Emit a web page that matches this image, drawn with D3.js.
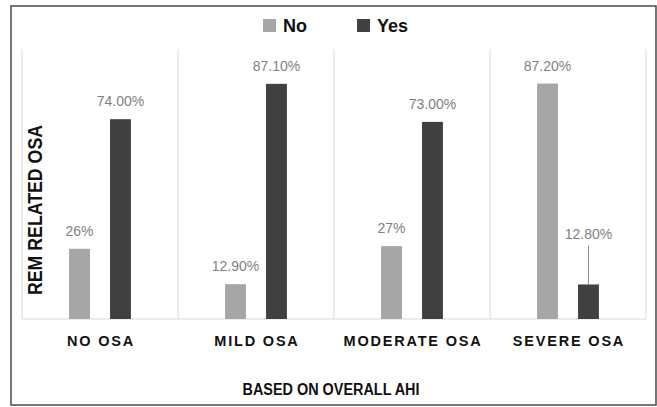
<!DOCTYPE html>
<html>
<head>
<meta charset="utf-8">
<script src="https://cdnjs.cloudflare.com/ajax/libs/d3/7.8.5/d3.min.js"></script>
<style>
    body { margin: 0; background: #fff; }
    svg { display: block; }
</style>
</head>
<body>
<svg id="chart" width="657" height="407"></svg>
<script>
// data
var categories = ["NO OSA", "MILD OSA", "MODERATE OSA", "SEVERE OSA"];
var seriesNames = ["No", "Yes"];
var noValues = [26, 12.9, 27, 87.2];
var yesValues = [74, 87.1, 73, 12.8];
var noLabels = ["26%", "12.90%", "27%", "87.20%"];
var yesLabels = ["74.00%", "87.10%", "73.00%", "12.80%"];

var colors = { "No": "#a6a6a6", "Yes": "#404040" };

var svg = d3.select("#chart");
var width = 657, height = 407;

svg.append("rect")
    .attr("width", width)
    .attr("height", height)
    .attr("fill", "#fff");

// outer frame
svg.append("rect")
    .attr("x", 11)
    .attr("y", 6)
    .attr("width", 645)
    .attr("height", 399)
    .attr("fill", "none")
    .attr("stroke", "#4a4a4a")
    .attr("stroke-width", 1.5);

var plotLeft = 22, plotRight = 646, plotTop = 49, plotBottom = 319;

var x0 = d3.scaleBand()
    .domain(categories)
    .range([plotLeft, plotRight])
    .padding(0);

var x1 = d3.scaleBand()
    .domain(seriesNames)
    .range([0, x0.bandwidth()])
    .paddingInner(0.49)
    .paddingOuter(1.15);

var y = d3.scaleLinear()
    .domain([0, 100])
    .range([plotBottom, plotTop]);

var rows = categories.map(function (c, i) {
    return {
        cat: c,
        bars: [
            { key: "No", value: noValues[i], label: noLabels[i] },
            { key: "Yes", value: yesValues[i], label: yesLabels[i] }
        ]
    };
});

// vertical separators between categories
var sepX = categories.map(function (c) { return x0(c); }).concat([plotRight]);
svg.append("g")
    .selectAll("line")
    .data(sepX)
    .enter()
    .append("line")
    .attr("x1", function (d) { return d; })
    .attr("x2", function (d) { return d; })
    .attr("y1", plotTop)
    .attr("y2", plotBottom)
    .attr("stroke", "#d9d9d9")
    .attr("stroke-width", 1);

// category axis line
svg.append("line")
    .attr("x1", plotLeft)
    .attr("x2", plotRight)
    .attr("y1", plotBottom)
    .attr("y2", plotBottom)
    .attr("stroke", "#d9d9d9")
    .attr("stroke-width", 1);

var groups = svg.append("g")
    .selectAll("g")
    .data(rows)
    .enter()
    .append("g")
    .attr("transform", function (d) { return "translate(" + x0(d.cat) + ",0)"; });

groups.selectAll("rect")
    .data(function (d) { return d.bars; })
    .enter()
    .append("rect")
    .attr("x", function (d) { return x1(d.key); })
    .attr("width", x1.bandwidth())
    .attr("y", function (d) { return y(d.value); })
    .attr("height", function (d) { return y(0) - y(d.value); })
    .attr("fill", function (d) { return colors[d.key]; });

// labels; the small "Yes" bar in the last group has its label lifted with a leader line
var liftedCat = "SEVERE OSA", liftedKey = "Yes", lift = 32;

groups.each(function (row) {
    var g = d3.select(this);
    row.bars.forEach(function (b) {
        var cx = x1(b.key) + x1.bandwidth() / 2;
        var top = y(b.value);
        var raised = (row.cat === liftedCat && b.key === liftedKey);
        var baseY = top - 13 - (raised ? lift : 0);
        g.append("text")
            .attr("x", cx)
            .attr("y", baseY)
            .attr("text-anchor", "middle")
            .attr("font-family", "'Liberation Sans', Arial, sans-serif")
            .attr("font-size", 14)
            .attr("fill", "#7f7f7f")
            .text(b.label);
        if (raised) {
            g.append("line")
                .attr("x1", cx)
                .attr("x2", cx)
                .attr("y1", baseY + 6)
                .attr("y2", top)
                .attr("stroke", "#8c8c8c")
                .attr("stroke-width", 1);
        }
    });
});

// category labels
svg.append("g")
    .selectAll("text")
    .data(categories)
    .enter()
    .append("text")
    .attr("x", function (d) { return x0(d) + x0.bandwidth() / 2 + 1; })
    .attr("y", 346)
    .attr("text-anchor", "middle")
    .attr("font-family", "'Liberation Sans', Arial, sans-serif")
    .attr("font-weight", "bold")
    .attr("font-size", 14.5)
    .attr("letter-spacing", "1.8px")
    .attr("fill", "#111")
    .text(function (d) { return d; });

// axis titles
svg.append("text")
    .attr("x", 331)
    .attr("y", 395)
    .attr("text-anchor", "middle")
    .attr("font-family", "'Liberation Sans', Arial, sans-serif")
    .attr("font-weight", "bold")
    .attr("font-size", 16)
    .attr("textLength", 177)
    .attr("lengthAdjust", "spacingAndGlyphs")
    .attr("fill", "#111")
    .text("BASED ON OVERALL AHI");

svg.append("text")
    .attr("transform", "translate(42,210) rotate(-90)")
    .attr("text-anchor", "middle")
    .attr("font-family", "'Liberation Sans', Arial, sans-serif")
    .attr("font-weight", "bold")
    .attr("font-size", 20)
    .attr("textLength", 170)
    .attr("lengthAdjust", "spacingAndGlyphs")
    .attr("fill", "#111")
    .text("REM RELATED OSA");

// legend
var legendX = [263, 357];
var legend = svg.append("g")
    .selectAll("g")
    .data(seriesNames)
    .enter()
    .append("g")
    .attr("transform", function (d, i) { return "translate(" + legendX[i] + ",19)"; });

legend.append("rect")
    .attr("width", 13)
    .attr("height", 13)
    .attr("fill", function (d) { return colors[d]; });

legend.append("text")
    .attr("x", 20)
    .attr("y", 13)
    .attr("font-family", "'Liberation Sans', Arial, sans-serif")
    .attr("font-weight", "bold")
    .attr("font-size", 18)
    .attr("fill", "#111")
    .text(function (d) { return d; });
</script>
</body>
</html>
